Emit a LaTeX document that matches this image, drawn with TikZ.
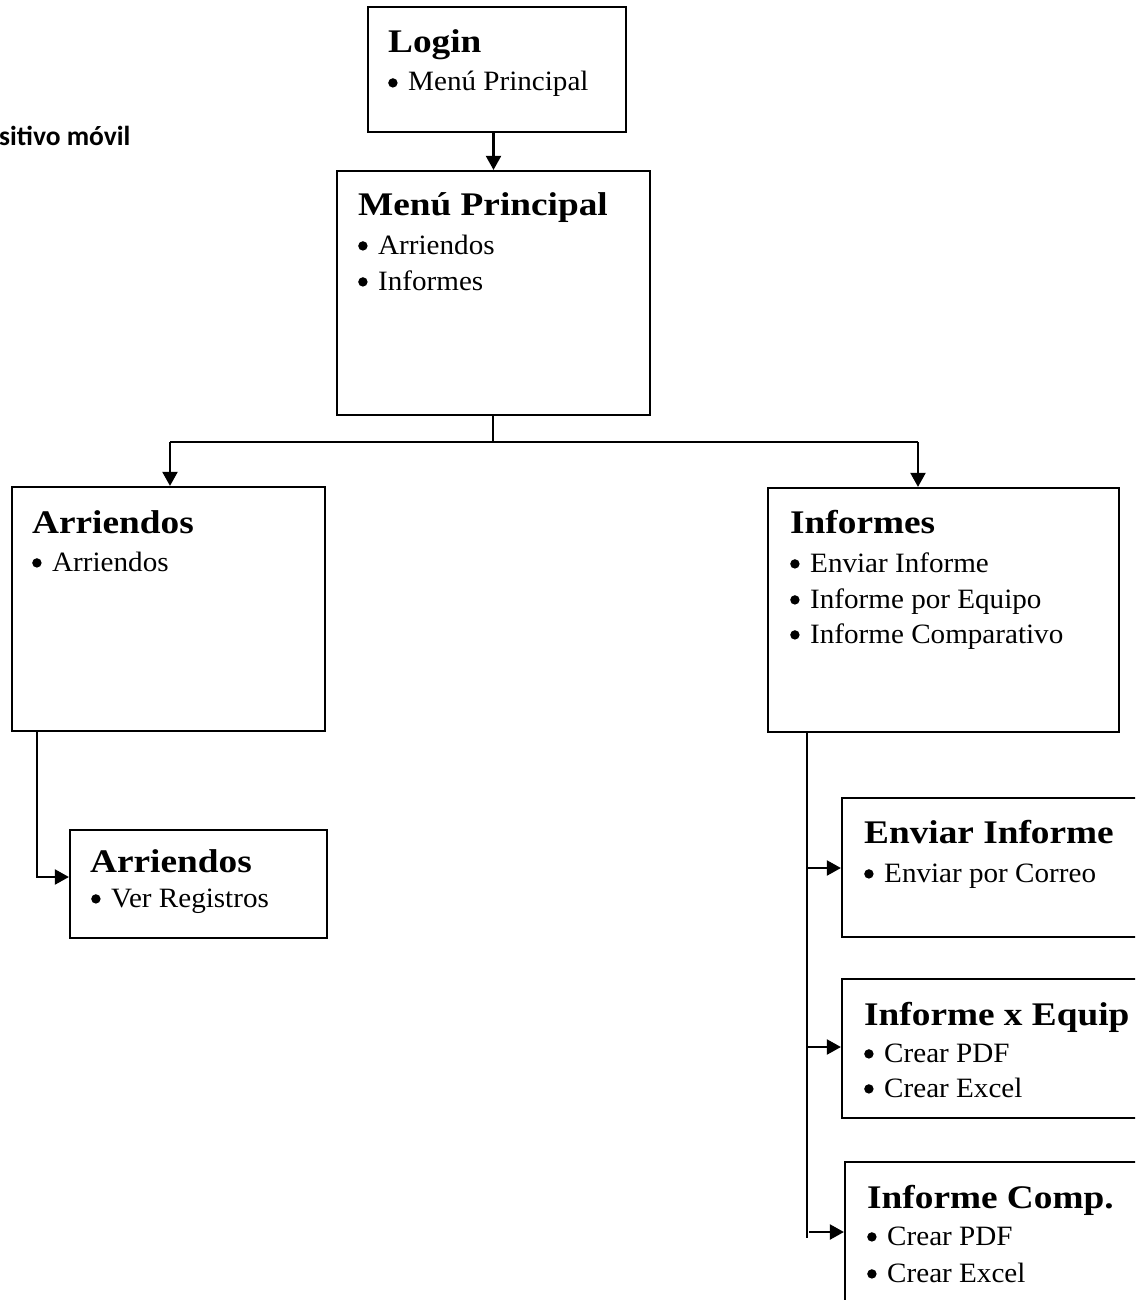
\documentclass[tikz,border=0pt]{standalone}
\usepackage{fontspec}
\setmainfont{Liberation Serif}[FakeStretch=1.04, BoldFeatures={FakeStretch=1.13}]
\newfontfamily\labelfont{Carlito}
\usetikzlibrary{arrows.meta,calc}

\tikzset{
  box/.style={draw, line width=2.2pt, rectangle, inner sep=0pt},
  link/.style={line width=2.1pt},
  arrow/.style={link, -{Triangle[length=14pt,width=15pt]}},
  head/.style={anchor=base west, inner sep=0pt, font=\fontsize{33}{38}\selectfont\bfseries},
  item/.style={anchor=base west, inner sep=0pt, font=\fontsize{28}{34}\selectfont},
}
% list entry: a round dot followed by the entry text
\newcommand{\bulletitem}[1]{\makebox[20pt][l]{\raisebox{3.4pt}{\tikz\fill (0,0) circle (4.7pt);}}#1}

\begin{document}
\begin{tikzpicture}[x=1pt, y=-1pt]
  \useasboundingbox (0,0) rectangle (1135,1300);
  \clip (0,0) rectangle (1135,1300);
  \fill[white] (0,0) rectangle (1135,1300);

  % caption on the left margin
  \node[anchor=base west, inner sep=0pt, font=\labelfont\fontsize{27.5}{32}\selectfont\bfseries] (cap) at (-1,146) {sitivo móvil};

  % boxes
  \node[box, minimum width=258pt, minimum height=125pt] (login) at (497,69.5) {};
  \node[box, minimum width=313pt, minimum height=244pt] (menu) at (493.5,293) {};
  \node[box, minimum width=313pt, minimum height=244pt] (arr) at (168.5,609) {};
  \node[box, minimum width=351pt, minimum height=244pt] (inf) at (943.5,610) {};
  \node[box, minimum width=257pt, minimum height=108pt] (ver) at (198.5,884) {};
  \node[box, minimum width=320pt, minimum height=139pt] (env) at (1002,867.5) {};
  \node[box, minimum width=320pt, minimum height=139pt] (equ) at (1002,1048.5) {};
  \node[box, minimum width=320pt, minimum height=160pt] (cmp) at (1005,1242) {};

  % texts
  \node[head] (loginT) at (388,53) {Login};
  \node[item] (loginA) at (388,91) {\bulletitem{Menú Principal}};

  \node[head] (menuT) at (358,215) {Menú Principal};
  \node[item] (menuA) at (358,254) {\bulletitem{Arriendos}};
  \node[item] (menuB) at (358,290) {\bulletitem{Informes}};

  \node[head] (arrT) at (32,533) {Arriendos};
  \node[item] (arrA) at (32,571) {\bulletitem{Arriendos}};

  \node[head] (infT) at (790,533) {Informes};
  \node[item] (infA) at (790,572) {\bulletitem{Enviar Informe}};
  \node[item] (infB) at (790,608) {\bulletitem{Informe por Equipo}};
  \node[item] (infC) at (790,643) {\bulletitem{Informe Comparativo}};

  \node[head] (verT) at (90,872) {Arriendos};
  \node[item] (verA) at (91,907) {\bulletitem{Ver Registros}};

  \node[head] (envT) at (864,843) {Enviar Informe};
  \node[item] (envA) at (864,882) {\bulletitem{Enviar por Correo}};

  \node[head] (equT) at (864,1025) {Informe x Equip};
  \node[item] (equA) at (864,1062) {\bulletitem{Crear PDF}};
  \node[item] (equB) at (864,1097) {\bulletitem{Crear Excel}};

  \node[head] (cmpT) at (867,1208) {Informe Comp.};
  \node[item] (cmpA) at (867,1245) {\bulletitem{Crear PDF}};
  \node[item] (cmpB) at (867,1282) {\bulletitem{Crear Excel}};

  % connectors
  \draw[arrow] (login.south -| menu.north) -- (menu.north);

  \coordinate (split) at (493,442);
  \coordinate (splitL) at (170,442);
  \coordinate (splitR) at (918,442);
  \draw[link] (split |- menu.south) -- (split);
  \draw[link] (splitL) -- (splitR);
  \draw[arrow] (splitL) -- (splitL |- arr.north);
  \draw[arrow] (splitR) -- (splitR |- inf.north);

  \coordinate (arrDrop) at (37,877);
  \draw[arrow] (arrDrop |- arr.south) -- (arrDrop) -- (ver.west |- arrDrop);

  \coordinate (infDrop) at (807,1238);
  \draw[link] (infDrop |- inf.south) -- (infDrop);
  \draw[arrow] (807,868) -- (env.west |- 0,868);
  \draw[arrow] (807,1047) -- (equ.west |- 0,1047);
  \draw[arrow] (809,1232) -- (cmp.west |- 0,1232);
\end{tikzpicture}
\end{document}
